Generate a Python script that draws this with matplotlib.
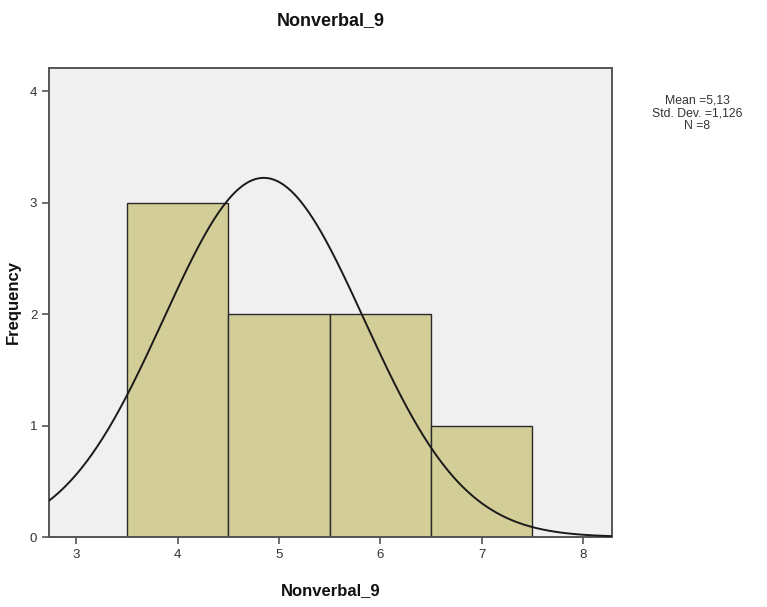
import numpy as np
import matplotlib
matplotlib.use("Agg")
import matplotlib.pyplot as plt

# Data
bin_edges = [3.5, 4.5, 5.5, 6.5, 7.5]
frequencies = [3, 2, 2, 1]
curve_mean = 4.85
curve_sd = 0.99
n_total = 8
bin_width = 1.0
x_ticks = [3, 4, 5, 6, 7, 8]
y_ticks = [0, 1, 2, 3, 4]
stats_lines = ["Mean =5,13", "Std. Dev. =1,126", "N =8"]

plt.rcParams['font.family'] = ['Liberation Sans', 'DejaVu Sans']

fig = plt.figure(figsize=(7.67, 6.07), dpi=100)
ax = fig.add_axes([0.0639, 0.1153, 0.7336, 0.7727])
ax.set_facecolor('#F0F0F0')

lefts = bin_edges[:-1]
widths = np.diff(bin_edges)
ax.bar(lefts, frequencies, width=widths, align='edge', color='#D3CE98',
       edgecolor='#2a2a2a', linewidth=1.0, zorder=2)

xs = np.linspace(2.73, 8.285, 400)
ys = n_total * bin_width / (curve_sd * np.sqrt(2 * np.pi)) * np.exp(-0.5 * ((xs - curve_mean) / curve_sd) ** 2)
ax.plot(xs, ys, color='#1a1a1a', linewidth=1.4, zorder=3)

ax.set_xlim(2.73, 8.285)
ax.set_ylim(0, 4.21)
ax.set_xticks(x_ticks)
ax.set_yticks(y_ticks)
ax.tick_params(direction='out', length=5, width=1.2, colors='#555555', labelsize=9.5,
               labelcolor='#333333')
for s in ax.spines.values():
    s.set_color('#555555')
    s.set_linewidth(1.4)

ax.set_title("Nonverbal_9", fontsize=13, fontweight='bold', pad=31, color='#111111')
ax.set_xlabel("Nonverbal_9", fontsize=12, fontweight='bold', labelpad=16, color='#111111')
ax.set_ylabel("Frequency", fontsize=12, fontweight='bold', labelpad=6, color='#111111')

fig.text(697 / 767, 1 - 113 / 607, "\n".join(stats_lines), ha='center', va='center',
         fontsize=8.8, color='#333333', linespacing=1.1)

fig.savefig("out.png", dpi=100)
